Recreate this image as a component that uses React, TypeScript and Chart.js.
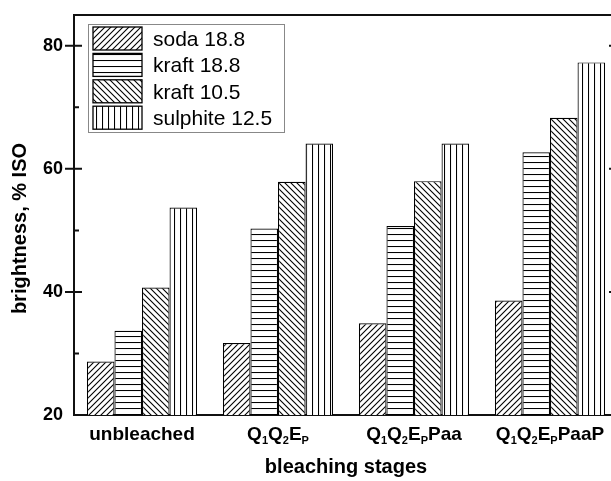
import React, { useEffect, useRef } from "react";
import { Chart, registerables } from "chart.js";
Chart.register(...registerables);

// ---------- data ----------
const categories = ["unbleached", "Q_1Q_2E_P", "Q_1Q_2E_PPaa", "Q_1Q_2E_PPaaP"];
const seriesLabels = ["soda 18.8", "kraft 18.8", "kraft 10.5", "sulphite 12.5"];
const soda188 = [28.7, 31.7, 34.9, 38.6];
const kraft188 = [33.7, 50.3, 50.7, 62.7];
const kraft105 = [40.7, 57.9, 58.0, 68.3];
const sulphite125 = [53.7, 64.1, 64.1, 77.3];
const yMin = 20;
const yMax = 85;
const yMajorStep = 20;
const yMinorStep = 10;
const xTitle = "bleaching stages";
const yTitle = "brightness, % ISO";

const FONT = "'Liberation Sans', Arial, Helvetica, sans-serif";
const INK = "#111";

function makePattern(kind: string): CanvasPattern | string {
  const s = 6;
  const c = document.createElement("canvas");
  c.width = s;
  c.height = s;
  const g = c.getContext("2d");
  if (!g) return "#fff";
  g.fillStyle = "#fff";
  g.fillRect(0, 0, s, s);
  g.strokeStyle = "#000";
  g.lineWidth = 1.1;
  g.beginPath();
  if (kind === "fwd") {
    g.moveTo(0, s); g.lineTo(s, 0);
    g.moveTo(-1, 1); g.lineTo(1, -1);
    g.moveTo(s - 1, s + 1); g.lineTo(s + 1, s - 1);
  } else if (kind === "back") {
    g.moveTo(0, 0); g.lineTo(s, s);
    g.moveTo(s - 1, -1); g.lineTo(s + 1, 1);
    g.moveTo(-1, s - 1); g.lineTo(1, s + 1);
  } else if (kind === "h") {
    g.moveTo(0, 0.5); g.lineTo(s, 0.5);
  } else {
    g.moveTo(0.5, 0); g.lineTo(0.5, s);
  }
  g.stroke();
  return g.createPattern(c, "repeat") || "#fff";
}

type Seg = { t: string; sub: boolean };
function parseRich(text: string): Seg[] {
  const segs: Seg[] = [];
  for (let i = 0; i < text.length; i++) {
    if (text[i] === "_" && i + 1 < text.length) {
      segs.push({ t: text[i + 1], sub: true });
      i++;
    } else {
      const last = segs[segs.length - 1];
      if (last && !last.sub) last.t += text[i];
      else segs.push({ t: text[i], sub: false });
    }
  }
  return segs;
}

function drawRich(ctx: CanvasRenderingContext2D, text: string, cx: number, base: number, size: number, subSize: number) {
  const segs = parseRich(text);
  const fMain = `bold ${size}px ${FONT}`;
  const fSub = `bold ${subSize}px ${FONT}`;
  let w = 0;
  const widths = segs.map((s) => {
    ctx.font = s.sub ? fSub : fMain;
    const m = ctx.measureText(s.t).width;
    w += m;
    return m;
  });
  let x = cx - w / 2;
  ctx.textAlign = "left";
  ctx.textBaseline = "alphabetic";
  segs.forEach((s, i) => {
    ctx.font = s.sub ? fSub : fMain;
    ctx.fillText(s.t, x, s.sub ? base + 4 : base);
    x += widths[i];
  });
}

const decorPlugin = {
  id: "decor",
  afterDraw(chart: any) {
    const { ctx, chartArea: a, scales } = chart;
    const y = scales.y;
    const x = scales.x;
    ctx.save();
    // frame top + right
    ctx.strokeStyle = INK;
    ctx.lineWidth = 2;
    ctx.beginPath();
    ctx.moveTo(a.left - 1, a.top);
    ctx.lineTo(a.right + 1, a.top);
    ctx.moveTo(a.right, a.top);
    ctx.lineTo(a.right, a.bottom);
    ctx.stroke();
    // y ticks (major in&out, minor in)
    ctx.beginPath();
    y.ticks.forEach((t: any) => {
      const v = t.value;
      if (v <= yMin || v >= yMax) return;
      const py = y.getPixelForValue(v);
      if (v % yMajorStep === 0) {
        ctx.moveTo(a.left - 9, py); ctx.lineTo(a.left + 8, py);
        ctx.moveTo(a.right - 9, py); ctx.lineTo(a.right + 9, py);
      } else if (v % yMinorStep === 0) {
        ctx.moveTo(a.left, py); ctx.lineTo(a.left + 5, py);
        ctx.moveTo(a.right - 5, py); ctx.lineTo(a.right, py);
      }
    });
    ctx.stroke();
    // x category labels
    ctx.fillStyle = "#000";
    categories.forEach((c, i) => {
      drawRich(ctx, c, x.getPixelForValue(i), a.bottom + 25, 19, 11);
    });
    // x title
    ctx.font = `bold 20px ${FONT}`;
    ctx.textAlign = "center";
    ctx.textBaseline = "alphabetic";
    ctx.fillText(xTitle, (a.left + a.right) / 2, a.bottom + 58);
    // y title
    ctx.save();
    ctx.translate(26, y.getPixelForValue(50.3));
    ctx.rotate(-Math.PI / 2);
    ctx.fillText(yTitle, 0, 0);
    ctx.restore();
    // legend
    const lx = a.left + 14;
    const ly = a.top + 9;
    const lw = 196;
    const lh = 108;
    ctx.fillStyle = "#fff";
    ctx.fillRect(lx, ly, lw, lh);
    ctx.strokeStyle = "#888";
    ctx.lineWidth = 1;
    ctx.strokeRect(lx + 0.5, ly + 0.5, lw, lh);
    chart.data.datasets.forEach((ds: any, i: number) => {
      const ry = ly + 3 + i * 26.4;
      ctx.fillStyle = ds.backgroundColor;
      ctx.fillRect(lx + 5, ry, 49, 23);
      ctx.strokeStyle = "#000";
      ctx.lineWidth = 1.3;
      ctx.strokeRect(lx + 5, ry, 49, 23);
      ctx.fillStyle = "#000";
      ctx.font = `21px ${FONT}`;
      ctx.textAlign = "left";
      ctx.textBaseline = "alphabetic";
      ctx.fillText(ds.label, lx + 65, ry + 19);
    });
    ctx.restore();
  },
};

export default function App() {
  const ref = useRef<HTMLCanvasElement | null>(null);
  useEffect(() => {
    document.body.style.margin = "0";
    const cv = ref.current;
    if (!cv) return;
    const pats = [makePattern("fwd"), makePattern("h"), makePattern("back"), makePattern("v")];
    const series = [soda188, kraft188, kraft105, sulphite125];
    const chart = new Chart(cv, {
      type: "bar",
      data: {
        labels: categories,
        datasets: series.map((d, i) => ({
          label: seriesLabels[i],
          data: d,
          backgroundColor: pats[i] as any,
          borderColor: "#000",
          borderWidth: 1.2,
          borderSkipped: false,
          barPercentage: 1,
          categoryPercentage: 0.81,
        })),
      },
      options: {
        animation: false,
        responsive: false,
        devicePixelRatio: 1,
        layout: { padding: { top: 15, right: 22, bottom: 0, left: 0 } },
        plugins: { legend: { display: false }, tooltip: { enabled: false } },
        scales: {
          x: {
            type: "category",
            grid: { display: false, drawTicks: false },
            border: { display: true, color: INK, width: 2 },
            ticks: { display: false },
            afterFit: (s: any) => {
              s.height = 66;
              s.paddingLeft = 0;
              s.paddingRight = 0;
            },
          },
          y: {
            min: yMin,
            max: yMax,
            grid: { display: false, drawTicks: false },
            border: { display: true, color: INK, width: 2 },
            ticks: {
              stepSize: yMinorStep,
              padding: 11,
              color: "#000",
              font: { family: FONT, size: 18, weight: "bold" },
              callback: (v: any) => (Number(v) % yMajorStep === 0 ? String(v) : ""),
            },
            afterFit: (s: any) => {
              s.width = 74;
              s.paddingTop = 0;
              s.paddingBottom = 0;
            },
          },
        },
      } as any,
      plugins: [decorPlugin],
    });
    return () => chart.destroy();
  }, []);
  return (
    <div style={{ position: "fixed", left: 0, top: 0, width: 611, height: 481, overflow: "hidden", background: "#fff" }}>
      <canvas ref={ref} width={640} height={481} style={{ display: "block", width: 640, height: 481 }} />
    </div>
  );
}
